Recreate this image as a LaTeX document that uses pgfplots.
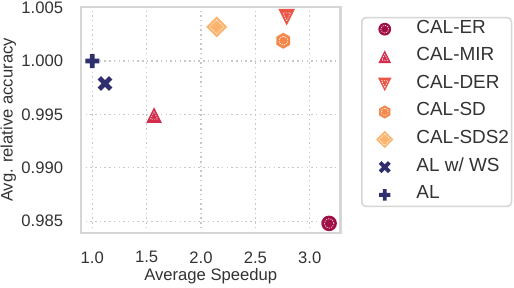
\documentclass[border=0pt]{standalone}
\usepackage{fontspec}
\setmainfont{Liberation Sans}
\usepackage{pgfplots}
\pgfplotsset{compat=1.18}
\definecolor{cER}{RGB}{160,16,70}
\definecolor{cMIR}{RGB}{212,45,75}
\definecolor{cDER}{RGB}{234,86,70}
\definecolor{cSD}{RGB}{245,135,75}
\definecolor{cSDS}{RGB}{251,180,110}
\definecolor{cAL}{RGB}{47,47,110}
\definecolor{spine}{RGB}{214,214,214}
\definecolor{gridc}{RGB}{200,200,200}
\definecolor{txt}{RGB}{51,51,51}
\newcommand{\wdots}{\pgfsetstrokecolor{white}\pgfsetlinewidth{0.6bp}\pgfsetdash{{1.2bp}{1.2bp}}{0pt}}
\pgfdeclareplotmark{dcirc}{%
  \pgfpathcircle{\pgfpointorigin}{7.8bp}\pgfusepathqfill
  \pgfscope\wdots\pgfpathcircle{\pgfpointorigin}{4.8bp}\pgfusepathqstroke\endpgfscope}
\pgfdeclareplotmark{dtriu}{%
  \pgfpathmoveto{\pgfpoint{0bp}{7.8bp}}\pgfpathlineto{\pgfpoint{-7.8bp}{-7.8bp}}\pgfpathlineto{\pgfpoint{7.8bp}{-7.8bp}}\pgfpathclose\pgfusepathqfill
  \pgfscope\wdots\pgfpathmoveto{\pgfpoint{0bp}{3.5bp}}\pgfpathlineto{\pgfpoint{-3.6bp}{-4.2bp}}\pgfpathlineto{\pgfpoint{3.6bp}{-4.2bp}}\pgfpathclose\pgfusepathqstroke\endpgfscope}
\pgfdeclareplotmark{dtrid}{%
  \pgfpathmoveto{\pgfpoint{0bp}{-8.3bp}}\pgfpathlineto{\pgfpoint{-8.3bp}{8.3bp}}\pgfpathlineto{\pgfpoint{8.3bp}{8.3bp}}\pgfpathclose\pgfusepathqfill
  \pgfscope\wdots\pgfpathmoveto{\pgfpoint{0bp}{-3.7bp}}\pgfpathlineto{\pgfpoint{-3.8bp}{4.4bp}}\pgfpathlineto{\pgfpoint{3.8bp}{4.4bp}}\pgfpathclose\pgfusepathqstroke\endpgfscope}
\pgfdeclareplotmark{dhex}{%
  \pgfpathmoveto{\pgfpointpolar{90}{8bp}}\pgfpathlineto{\pgfpointpolar{150}{8bp}}\pgfpathlineto{\pgfpointpolar{210}{8bp}}\pgfpathlineto{\pgfpointpolar{270}{8bp}}\pgfpathlineto{\pgfpointpolar{330}{8bp}}\pgfpathlineto{\pgfpointpolar{30}{8bp}}\pgfpathclose\pgfusepathqfill
  \pgfscope\wdots\pgfpathmoveto{\pgfpointpolar{90}{4.6bp}}\pgfpathlineto{\pgfpointpolar{150}{4.6bp}}\pgfpathlineto{\pgfpointpolar{210}{4.6bp}}\pgfpathlineto{\pgfpointpolar{270}{4.6bp}}\pgfpathlineto{\pgfpointpolar{330}{4.6bp}}\pgfpathlineto{\pgfpointpolar{30}{4.6bp}}\pgfpathclose\pgfusepathqstroke\endpgfscope}
\pgfdeclareplotmark{ddiam}{%
  \pgfpathmoveto{\pgfpoint{0bp}{10.5bp}}\pgfpathlineto{\pgfpoint{-10.5bp}{0bp}}\pgfpathlineto{\pgfpoint{0bp}{-10.5bp}}\pgfpathlineto{\pgfpoint{10.5bp}{0bp}}\pgfpathclose\pgfusepathqfill
  \pgfscope\wdots\pgfpathmoveto{\pgfpoint{0bp}{7bp}}\pgfpathlineto{\pgfpoint{-7bp}{0bp}}\pgfpathlineto{\pgfpoint{0bp}{-7bp}}\pgfpathlineto{\pgfpoint{7bp}{0bp}}\pgfpathclose\pgfusepathqstroke\endpgfscope}
\newcommand{\plusshape}[2]{%
  \pgfpathmoveto{\pgfpoint{#2}{#1}}\pgfpathlineto{\pgfpoint{-#2}{#1}}\pgfpathlineto{\pgfpoint{-#2}{#2}}%
  \pgfpathlineto{\pgfpoint{-#1}{#2}}\pgfpathlineto{\pgfpoint{-#1}{-#2}}\pgfpathlineto{\pgfpoint{-#2}{-#2}}%
  \pgfpathlineto{\pgfpoint{-#2}{-#1}}\pgfpathlineto{\pgfpoint{#2}{-#1}}\pgfpathlineto{\pgfpoint{#2}{-#2}}%
  \pgfpathlineto{\pgfpoint{#1}{-#2}}\pgfpathlineto{\pgfpoint{#1}{#2}}\pgfpathlineto{\pgfpoint{#2}{#2}}\pgfpathclose}
\pgfdeclareplotmark{dplus}{\plusshape{7bp}{2.4bp}\pgfusepathqfill}
\pgfdeclareplotmark{dx}{\pgfscope\pgftransformrotate{45}\plusshape{8bp}{2.4bp}\pgfusepathqfill\endpgfscope}
\begin{document}
\begin{tikzpicture}
\begin{axis}[name=ax,
  scale only axis, width=259.5bp, height=226bp,
  xmin=0.896, xmax=3.283, ymin=0.9839, ymax=1.00506,
  xtick={1,1.5,2,2.5,3}, xticklabels={1.0,1.5,2.0,2.5,3.0},
  ytick={0.985,0.99,0.995,1,1.005}, yticklabels={0.985,0.990,0.995,1.000,1.005},
  major tick length=0,
  grid=major,
  grid style={color=gridc, line width=1.3bp, dash pattern=on 1.5bp off 3.2bp},
  axis line style={color=spine, line width=2.5bp},
  tick label style={font=\fontsize{16.7}{20}\selectfont, text=txt},
  xticklabel style={yshift=-15bp},
  yticklabel style={xshift=-14.4bp},
  xlabel={Average Speedup}, ylabel={Avg. relative accuracy},
  label style={font=\fontsize{16.7}{20}\selectfont, text=txt},
  xlabel style={at={(axis description cs:0.5,-0.193)}, anchor=center},
  ylabel style={at={(axis description cs:-0.280,0.5)}, anchor=center},
  legend cell align=left,
  legend style={at={(1.079,0.956)}, anchor=north west, draw=spine, line width=1.5bp,
    rounded corners=4bp, inner xsep=0bp, inner ysep=0bp,
    font=\fontsize{19}{22}\selectfont, text=txt, row sep=4.6bp, column sep=14.2bp,
    nodes={text height=12bp, text depth=4bp, inner ysep=3.5bp, inner xsep=2.5bp}},
  legend image code/.code={\path[draw=none,fill=none] (-23bp,0bp) -- (15bp,0bp);
    \draw[sharp corners,mark options={scale=0.82}] plot coordinates {(0bp,0bp)};},
]
\addplot[only marks, mark=dcirc, color=cER] coordinates {(3.178,0.9848)};
\addlegendentry{CAL-ER}
\addplot[only marks, mark=dtriu, color=cMIR] coordinates {(1.568,0.99495)};
\addlegendentry{CAL-MIR}
\addplot[only marks, mark=dtrid, color=cDER] coordinates {(2.788,1.0041)};
\addlegendentry{CAL-DER}
\addplot[only marks, mark=dhex, color=cSD] coordinates {(2.757,1.0019)};
\addlegendentry{CAL-SD}
\addplot[only marks, mark=ddiam, color=cSDS] coordinates {(2.144,1.0032)};
\addlegendentry{CAL-SDS2}
\addplot[only marks, mark=dx, color=cAL] coordinates {(1.117,0.9979)};
\addlegendentry{AL w/ WS}
\addplot[only marks, mark=dplus, color=cAL] coordinates {(1.0,1.0)};
\addlegendentry{AL}
\end{axis}
\pgfresetboundingbox
\path[use as bounding box] ([shift={(-81bp,-55bp)}]ax.south west) rectangle ([shift={(433bp,233bp)}]ax.south west);
\end{tikzpicture}
\end{document}
